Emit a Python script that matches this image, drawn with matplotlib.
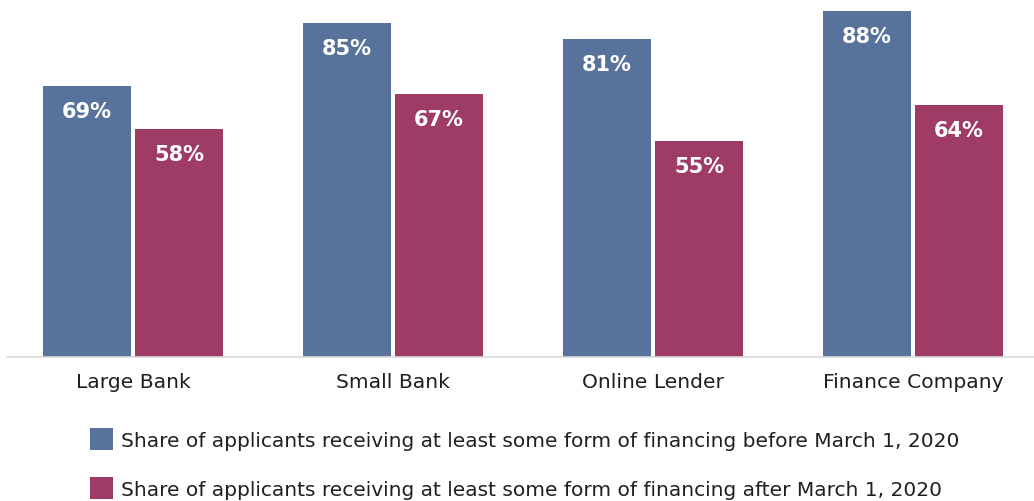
import matplotlib
matplotlib.use("Agg")
import matplotlib.pyplot as plt
import numpy as np

categories = ["Large Bank", "Small Bank", "Online Lender", "Finance Company"]
before_march = [69, 85, 81, 88]
after_march = [58, 67, 55, 64]
series_labels = [
    "Share of applicants receiving at least some form of financing before March 1, 2020",
    "Share of applicants receiving at least some form of financing after March 1, 2020",
]

BLUE = "#58739b"
RED = "#9e3c66"
TEXT = "#231f20"

W, H = 1034, 502
fig = plt.figure(figsize=(W / 100, H / 100), dpi=100)
ax = fig.add_axes([7 / W, (H - 358) / H, (W - 7) / W, 358 / H])

x = np.arange(len(categories))
bw = 0.336
off = 0.177
b1 = ax.bar(x - off, before_march, bw, color=BLUE, label=series_labels[0])
b2 = ax.bar(x + off, after_march, bw, color=RED, label=series_labels[1])

for bars, vals in ((b1, before_march), (b2, after_march)):
    for rect, v in zip(bars, vals):
        ax.annotate(f"{v}%", (rect.get_x() + rect.get_width() / 2, v),
                    xytext=(0, -18), textcoords="offset points",
                    ha="center", va="center", color="white",
                    fontsize=15, fontweight="bold")

ax.set_xlim(-0.4846, 3.4654)
ax.set_ylim(0, 358 / 3.93)
ax.set_xticks(x)
ax.set_xticklabels(categories, fontsize=14.6, color=TEXT)
ax.tick_params(axis="x", length=0, pad=11)
ax.set_yticks([])
for s in ("top", "left", "right"):
    ax.spines[s].set_visible(False)
ax.spines["bottom"].set_color("#d9d9d9")
ax.spines["bottom"].set_linewidth(1.2)

fig.legend(handles=[b1, b2], loc="upper left",
           bbox_to_anchor=(90 / W, 1 - 429 / H), frameon=False,
           fontsize=14.5, labelcolor=TEXT, handlelength=1.15, handleheight=1.3,
           handletextpad=0.4, labelspacing=1.36, borderpad=0, borderaxespad=0)

fig.savefig("out.png", dpi=100)
